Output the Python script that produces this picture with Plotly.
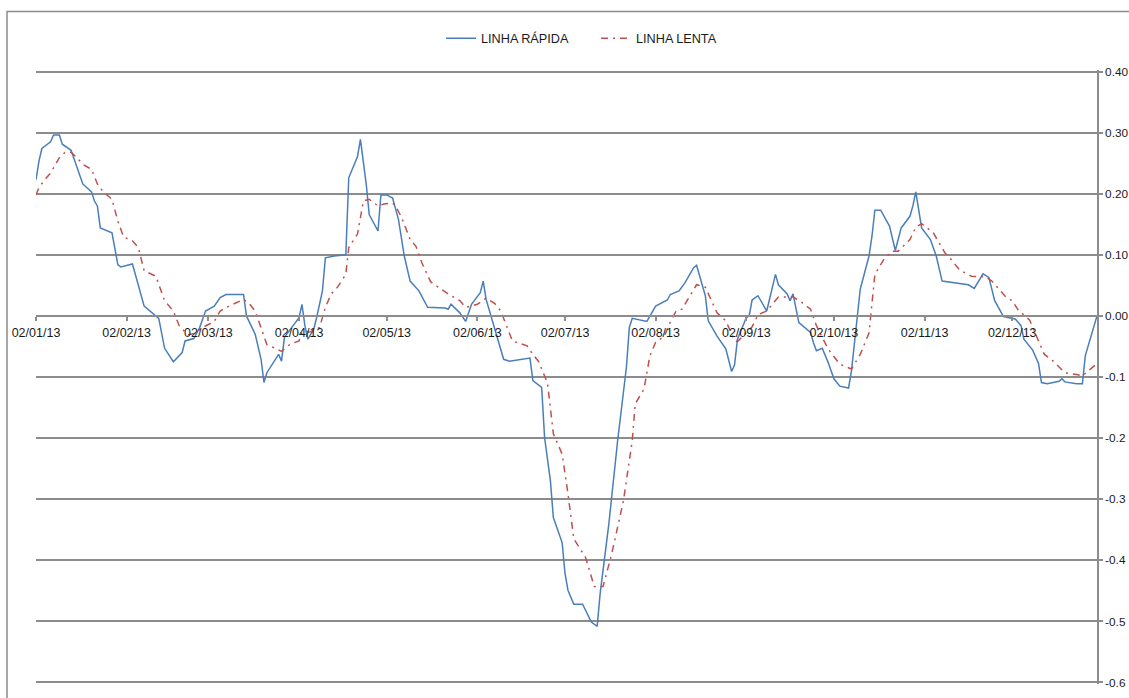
import plotly.graph_objects as go

# LINHA RÁPIDA (fast line)
fast_dates = [
    "2013-01-02", "2013-01-03", "2013-01-04", "2013-01-07", "2013-01-08", "2013-01-10", "2013-01-11", "2013-01-14",
    "2013-01-18", "2013-01-21", "2013-01-22", "2013-01-23", "2013-01-24", "2013-01-28", "2013-01-30", "2013-01-31",
    "2013-02-04", "2013-02-06", "2013-02-08", "2013-02-13", "2013-02-15", "2013-02-18", "2013-02-21", "2013-02-22",
    "2013-02-25", "2013-02-27",
    "2013-03-01", "2013-03-04", "2013-03-06", "2013-03-08", "2013-03-14", "2013-03-15", "2013-03-18", "2013-03-20",
    "2013-03-21", "2013-03-22", "2013-03-25", "2013-03-26", "2013-03-27", "2013-03-28", "2013-03-30",
    "2013-04-02", "2013-04-03", "2013-04-04", "2013-04-05", "2013-04-07", "2013-04-08", "2013-04-10", "2013-04-11",
    "2013-04-14", "2013-04-18", "2013-04-19", "2013-04-22", "2013-04-23", "2013-04-25", "2013-04-26", "2013-04-29",
    "2013-04-30",
    "2013-05-02", "2013-05-04", "2013-05-06", "2013-05-08", "2013-05-10", "2013-05-13", "2013-05-16", "2013-05-18",
    "2013-05-22", "2013-05-23", "2013-05-24", "2013-05-27", "2013-05-29", "2013-05-31",
    "2013-06-03", "2013-06-04", "2013-06-05", "2013-06-11", "2013-06-13", "2013-06-20", "2013-06-21", "2013-06-24",
    "2013-06-25", "2013-06-27", "2013-06-28",
    "2013-07-01", "2013-07-02", "2013-07-03", "2013-07-05", "2013-07-08", "2013-07-11", "2013-07-13", "2013-07-14",
    "2013-07-17", "2013-07-20", "2013-07-23", "2013-07-24", "2013-07-25", "2013-07-30",
    "2013-08-02", "2013-08-06", "2013-08-07", "2013-08-10", "2013-08-12", "2013-08-15", "2013-08-16", "2013-08-19",
    "2013-08-20", "2013-08-23", "2013-08-26", "2013-08-28", "2013-08-29", "2013-08-30",
    "2013-09-02", "2013-09-03", "2013-09-04", "2013-09-06", "2013-09-09", "2013-09-12", "2013-09-13", "2013-09-16",
    "2013-09-17", "2013-09-18", "2013-09-20", "2013-09-24", "2013-09-25", "2013-09-26", "2013-09-28", "2013-09-30",
    "2013-10-02", "2013-10-04", "2013-10-07", "2013-10-08", "2013-10-11", "2013-10-14", "2013-10-15", "2013-10-16",
    "2013-10-18", "2013-10-21", "2013-10-23", "2013-10-25", "2013-10-28", "2013-10-29", "2013-10-30",
    "2013-11-01", "2013-11-04", "2013-11-06", "2013-11-08", "2013-11-12", "2013-11-17", "2013-11-19", "2013-11-22",
    "2013-11-24", "2013-11-25", "2013-11-26", "2013-11-29",
    "2013-12-03", "2013-12-05", "2013-12-06", "2013-12-09", "2013-12-11", "2013-12-12", "2013-12-14", "2013-12-18",
    "2013-12-19", "2013-12-20", "2013-12-24", "2013-12-26", "2013-12-27", "2013-12-31",
]
fast_values = [
    0.223, 0.253, 0.274, 0.285, 0.296, 0.296, 0.281, 0.271, 0.216, 0.203, 0.188, 0.180, 0.144, 0.136, 0.084, 0.080,
    0.085, 0.052, 0.016, -0.004, -0.053, -0.075, -0.060, -0.041, -0.037, -0.019,
    0.008, 0.016, 0.030, 0.035, 0.035, 0.000, -0.030, -0.071, -0.109, -0.093, -0.071, -0.063, -0.074, -0.035, -0.022,
    -0.003, 0.019, -0.016, -0.038, -0.022, -0.003, 0.041, 0.095, 0.098, 0.100, 0.226, 0.261, 0.289, 0.215, 0.166,
    0.139, 0.198,
    0.198, 0.193, 0.158, 0.098, 0.057, 0.041, 0.014, 0.014, 0.013, 0.011, 0.019, 0.005, -0.009, 0.019,
    0.038, 0.057, 0.027, -0.071, -0.074, -0.069, -0.106, -0.117, -0.199, -0.270, -0.330,
    -0.371, -0.422, -0.449, -0.472, -0.472, -0.501, -0.508, -0.455, -0.340, -0.204, -0.084, -0.019, -0.004, -0.009,
    0.016, 0.026, 0.035, 0.041, 0.054, 0.079, 0.083, 0.033, -0.008, -0.033, -0.054, -0.091, -0.080, -0.038,
    -0.003, 0.000, 0.026, 0.033, 0.008, 0.068, 0.051, 0.036, 0.025, 0.036, -0.011, -0.027, -0.044, -0.057, -0.053,
    -0.076,
    -0.103, -0.115, -0.118, -0.090, 0.044, 0.098, 0.130, 0.173, 0.173, 0.147, 0.107, 0.144, 0.163, 0.180, 0.203,
    0.144, 0.125, 0.098, 0.057, 0.054, 0.051, 0.045, 0.069, 0.063, 0.044, 0.025, -0.001,
    -0.005, -0.016, -0.038, -0.056, -0.078, -0.109, -0.111, -0.107, -0.103, -0.108, -0.111, -0.111, -0.065, 0.000,
]

# LINHA LENTA (slow line)
slow_dates = [
    "2013-01-02", "2013-01-03", "2013-01-05", "2013-01-07", "2013-01-10", "2013-01-12", "2013-01-14", "2013-01-16",
    "2013-01-18", "2013-01-21", "2013-01-23", "2013-01-25", "2013-01-28", "2013-01-30",
    "2013-02-01", "2013-02-04", "2013-02-06", "2013-02-08", "2013-02-12", "2013-02-15", "2013-02-18", "2013-02-20",
    "2013-02-23", "2013-02-25", "2013-02-28",
    "2013-03-04", "2013-03-06", "2013-03-09", "2013-03-14", "2013-03-16", "2013-03-18", "2013-03-21", "2013-03-22",
    "2013-03-23", "2013-03-25", "2013-03-27", "2013-03-30",
    "2013-04-02", "2013-04-03", "2013-04-06", "2013-04-09", "2013-04-11", "2013-04-13", "2013-04-15", "2013-04-18",
    "2013-04-19", "2013-04-22", "2013-04-24", "2013-04-26", "2013-04-29",
    "2013-05-01", "2013-05-04", "2013-05-05", "2013-05-07", "2013-05-10", "2013-05-12", "2013-05-14", "2013-05-17",
    "2013-05-19", "2013-05-24", "2013-05-27", "2013-05-29",
    "2013-06-02", "2013-06-05", "2013-06-08", "2013-06-10", "2013-06-14", "2013-06-19", "2013-06-21", "2013-06-23",
    "2013-06-26", "2013-06-28",
    "2013-07-01", "2013-07-03", "2013-07-05", "2013-07-09", "2013-07-12", "2013-07-15", "2013-07-18", "2013-07-22",
    "2013-07-25", "2013-07-26", "2013-07-29", "2013-07-31",
    "2013-08-02", "2013-08-05", "2013-08-07", "2013-08-09", "2013-08-11", "2013-08-14", "2013-08-16", "2013-08-19",
    "2013-08-23", "2013-08-26", "2013-08-29", "2013-08-30",
    "2013-09-01", "2013-09-04", "2013-09-06", "2013-09-09", "2013-09-13", "2013-09-18", "2013-09-21", "2013-09-24",
    "2013-09-26", "2013-09-30",
    "2013-10-04", "2013-10-08", "2013-10-11", "2013-10-14", "2013-10-16", "2013-10-19", "2013-10-22", "2013-10-24",
    "2013-10-28", "2013-10-30",
    "2013-11-01", "2013-11-05", "2013-11-09", "2013-11-11", "2013-11-14", "2013-11-18", "2013-11-23", "2013-11-25",
    "2013-11-30",
    "2013-12-02", "2013-12-04", "2013-12-08", "2013-12-09", "2013-12-13", "2013-12-16", "2013-12-20", "2013-12-24",
    "2013-12-26", "2013-12-31",
]
slow_values = [
    0.198, 0.210, 0.223, 0.234, 0.259, 0.268, 0.268, 0.259, 0.248, 0.240, 0.216, 0.203, 0.191, 0.155,
    0.129, 0.123, 0.112, 0.074, 0.065, 0.025, 0.008, -0.016, -0.031, -0.029, -0.019,
    -0.009, 0.008, 0.016, 0.027, 0.020, 0.008, -0.031, -0.047, -0.049, -0.054, -0.058, -0.046,
    -0.041, -0.027, -0.026, -0.019, 0.014, 0.036, 0.046, 0.068, 0.112, 0.134, 0.188, 0.191, 0.180,
    0.183, 0.185, 0.180, 0.162, 0.125, 0.114, 0.087, 0.056, 0.049, 0.033, 0.025, 0.014,
    0.019, 0.029, 0.020, 0.008, -0.041, -0.049, -0.063, -0.075, -0.110, -0.193,
    -0.226, -0.291, -0.365, -0.395, -0.443, -0.443, -0.389, -0.302, -0.204, -0.144, -0.120, -0.066,
    -0.043, -0.033, -0.010, 0.008, 0.011, 0.035, 0.051, 0.047, 0.005, -0.008, -0.040, -0.042,
    -0.033, -0.018, 0.002, 0.008, 0.031, 0.031, 0.022, 0.011, -0.016, -0.054,
    -0.079, -0.087, -0.063, -0.028, 0.068, 0.092, 0.106, 0.106, 0.125, 0.145,
    0.151, 0.136, 0.103, 0.093, 0.075, 0.065, 0.064, 0.057, 0.030,
    0.025, 0.010, -0.007, -0.019, -0.063, -0.074, -0.093, -0.096, -0.098, -0.078,
]

# Right-hand value axis
y_ticks = [0.4, 0.3, 0.2, 0.1, 0.0, -0.1, -0.2, -0.3, -0.4, -0.5, -0.6]
y_tick_labels = ["0.40", "0.30", "0.20", "0.10", "0.00", "-0.1", "-0.2", "-0.3", "-0.4", "-0.5", "-0.6"]

GRID = "#8c8c8c"
TEXT = "#1a1a1a"
FONT = "Liberation Sans, Arial, sans-serif"

fig = go.Figure()
fig.add_trace(go.Scatter(
    x=fast_dates, y=fast_values, mode="lines", name="LINHA RÁPIDA",
    line=dict(color="#4a7ebb", width=1.5),
))
fig.add_trace(go.Scatter(
    x=slow_dates, y=slow_values, mode="lines", name="LINHA LENTA",
    line=dict(color="#c0504d", width=1.5, dash="7px,5px,2px,5px"),
))

# plot area spans 36..1097 px horizontally and ~69.5..684.5 px vertically
PW, PH = 1061.0, 615.0
TOP = 69.5

def px(x):
    return (x - 36) / PW

def py(y):
    return (TOP + PH - y) / PH

# outer chart frame
fig.add_shape(type="rect", xref="paper", yref="paper",
              x0=px(7), x1=px(1160), y0=py(730), y1=py(11),
              line=dict(color=GRID, width=1.5), fillcolor="rgba(0,0,0,0)", layer="below")

fig.update_layout(
    width=1129, height=698,
    margin=dict(l=36, r=32, t=TOP, b=698 - TOP - PH, autoexpand=False),
    paper_bgcolor="white", plot_bgcolor="white",
    font=dict(family=FONT, size=12.5, color=TEXT),
    showlegend=True,
    legend=dict(orientation="h", x=px(441), xanchor="left", y=py(38), yanchor="middle",
                font=dict(family=FONT, size=12.7, color=TEXT), bgcolor="rgba(0,0,0,0)",
                entrywidth=110, entrywidthmode="pixels", tracegroupgap=0),
    xaxis=dict(
        type="date", range=["2013-01-02", "2013-12-31"],
        tick0="2013-01-02", dtick="M1", tickformat="%d/%m/%y",
        anchor="free", position=0.6025 / 1.005, automargin=False,
        showgrid=False, zeroline=False,
        showline=True, linecolor=GRID, linewidth=1.5,
        ticks="outside", ticklen=4, tickcolor=GRID, tickwidth=1.5,
        ticklabelstandoff=1,
        tickfont=dict(family=FONT, size=12.5, color=TEXT),
    ),
    yaxis=dict(
        range=[-0.6025, 0.4025], side="right", automargin=False,
        tickmode="array", tickvals=y_ticks, ticktext=y_tick_labels,
        showgrid=True, gridcolor=GRID, gridwidth=1.5,
        zeroline=False,
        showline=True, linecolor=GRID, linewidth=1.5,
        ticks="outside", ticklen=4, tickcolor=GRID, tickwidth=1.5,
        ticklabelstandoff=0,
        tickfont=dict(family=FONT, size=11.8, color=TEXT),
    ),
)

fig.write_html("out.html")
